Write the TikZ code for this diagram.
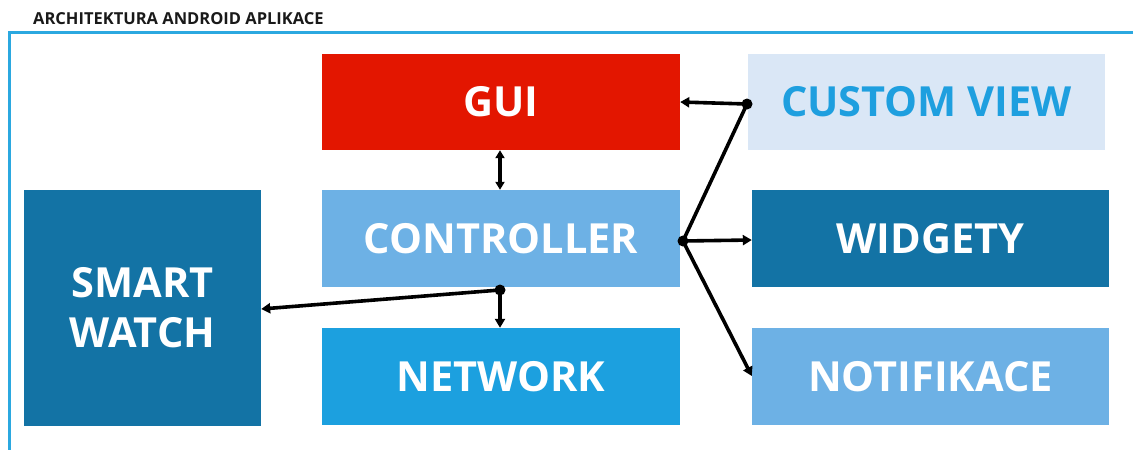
\documentclass[tikz,border=0pt]{standalone}
\usepackage{fontspec}
\setmainfont{Open Sans}
\usetikzlibrary{arrows.meta}
\definecolor{framec}{HTML}{2BA8E0}
\definecolor{guired}{HTML}{E31600}
\definecolor{cvfill}{HTML}{DAE7F6}
\definecolor{cvtext}{HTML}{1E9FDF}
\definecolor{ltblue}{HTML}{6DB1E5}
\definecolor{dkblue}{HTML}{1373A5}
\definecolor{mdblue}{HTML}{1CA0DF}
\begin{document}
\begin{tikzpicture}[x=1pt,y=-1pt,
  box/.style={rectangle, draw=none, minimum width=358pt, minimum height=97pt,
    inner sep=0pt, text=white, font=\fontsize{41.5}{50}\selectfont\bfseries, align=center},
  conn/.style={line width=3.6pt, black},
  tip/.style={-{Triangle[length=9pt,width=10pt]}},
  blob/.style={circle, fill=black, inner sep=0pt, minimum size=11pt}]
\useasboundingbox (0,0) rectangle (1133,450);
\draw[framec, line width=3pt] (1133,32) -- (9.5,32) -- (9.5,450);
\node[anchor=base west, font=\fontsize{16.5}{18}\selectfont\bfseries, text=black!90, inner sep=0pt] (title) at (33,24) {ARCHITEKTURA ANDROID APLIKACE};
\node[box, fill=guired, minimum height=96pt] (gui) at (501,102) {GUI};
\node[box, fill=cvfill, text=cvtext, minimum width=357pt, minimum height=96pt] (cv) at (926.5,102) {CUSTOM VIEW};
\node[box, fill=ltblue] (ctrl) at (501,238.5) {CONTROLLER};
\node[box, fill=dkblue, minimum width=357pt] (wid) at (930.5,238.5) {WIDGETY};
\node[box, fill=mdblue] (net) at (501,376.5) {NETWORK};
\node[box, fill=ltblue, minimum width=357pt] (notif) at (930.5,376.5) {NOTIFIKACE};
\node[box, fill=dkblue, minimum width=237pt, minimum height=236pt] (sw) at (142.5,308) {SMART\\WATCH};
\coordinate (j1) at (747,104);
\coordinate (j2) at (683,241);
\coordinate (j3) at (500,290);
\draw[conn, tip] (j1) -- (gui.east |- 0,102);
\draw[conn] (j1) -- (j2);
\draw[conn, tip] (j2) -- (wid.west |- 0,240);
\draw[conn, tip] (j2) -- (notif.west |- 0,376);
\draw[conn, {Triangle[length=8pt,width=9pt]}-{Triangle[length=8pt,width=9pt]}] (gui.south -| 500,0) -- (ctrl.north -| 500,0);
\draw[conn, tip] (j3) -- (sw.east |- 0,309);
\draw[conn, tip] (j3) -- (net.north -| 500,0);
\node[blob] at (j1) {};
\node[blob] at (j2) {};
\node[blob] at (j3) {};
\end{tikzpicture}
\end{document}
